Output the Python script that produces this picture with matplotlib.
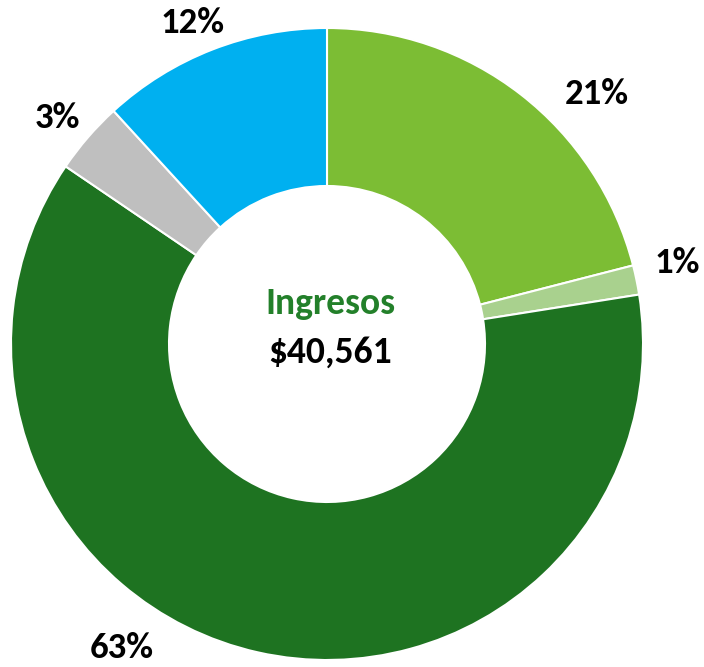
import numpy as np
import matplotlib
matplotlib.use("Agg")
import matplotlib.pyplot as plt

# ---- data ----
shares = [21.0, 1.5, 62.0, 3.7, 11.8]
share_labels = ["21%", "1%", "63%", "3%", "12%"]
colors = ["#7CBD34", "#A9D18E", "#1E7321", "#BFBFBF", "#00B0F0"]
explode_flags = [0, 1, 0, 1, 0]
center_title = "Ingresos"
center_value = "$40,561"

# ---- layout ----
W, H = 704, 667
cx, cy = 327, 323
R = 316
ring = 158
label_angles = [42.8, 13.0, -124.0, 140.0, 112.8]
label_radii = [368, 359, 367, 352, 348]

plt.rcParams['font.family'] = ['Carlito', 'DejaVu Sans']

fig = plt.figure(figsize=(W / 100, H / 100), dpi=100)
ax = fig.add_axes([0, 0, 1, 1])
ax.set_xlim(0, W)
ax.set_ylim(0, H)
ax.axis('off')

explode = [0.018 * f for f in explode_flags]
wedges, _ = ax.pie(shares, colors=colors, startangle=90, counterclock=False,
                   radius=R, center=(cx, cy), explode=explode,
                   wedgeprops=dict(width=ring, edgecolor='white', linewidth=1.5))
ax.set_xlim(0, W)
ax.set_ylim(0, H)
ax.set_aspect('equal')

for lab, ang, r in zip(share_labels, label_angles, label_radii):
    a = np.deg2rad(ang)
    ax.text(cx + r * np.cos(a), cy + r * np.sin(a), lab, ha='center', va='center',
            fontsize=26.5, fontweight='bold', color='black')

ax.text(cx + 3, cy + 41, center_title, ha='center', va='center', fontsize=27,
        fontweight='bold', color='#23802A')
ax.text(cx + 3, cy - 8, center_value, ha='center', va='center', fontsize=27,
        fontweight='bold', color='black')

fig.savefig("out.png", dpi=100)
